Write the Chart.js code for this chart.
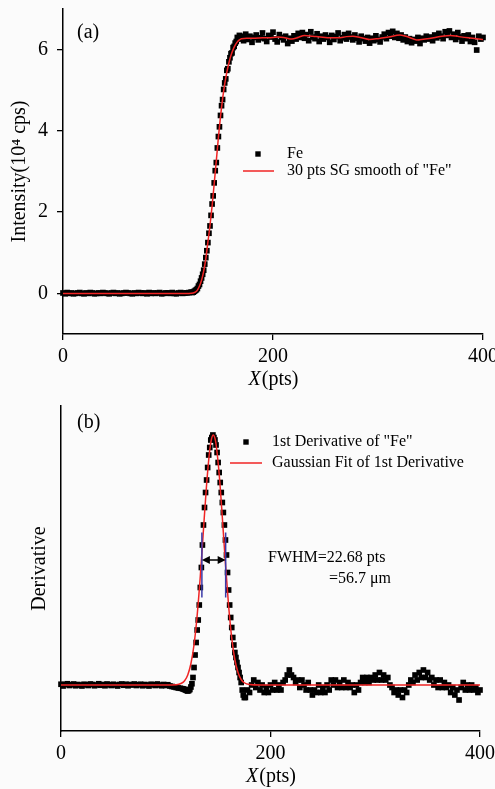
<!DOCTYPE html>
<html>
<head>
<meta charset="utf-8">
<script src="https://cdn.jsdelivr.net/npm/chart.js@4/dist/chart.umd.min.js"></script>
<style>
  body { margin: 0; background: #fbfbfb; }
  .panel { position: absolute; left: 0; width: 495px; }
  #panelA { top: 0; height: 392px; }
  #panelB { top: 392px; height: 397px; }
</style>
</head>
<body>
<div class="panel" id="panelA"><canvas id="chartA" width="495" height="392"></canvas></div>
<div class="panel" id="panelB"><canvas id="chartB" width="495" height="397"></canvas></div>
<script>
const SERIF = '"Liberation Serif", "Times New Roman", serif';

// ticks
const xTicks = [0, 200, 400];
const yTicksA = [0, 2, 4, 6];

// (a) Fe intensity, 10^4 cps
// x = 0, 2, ... 122
const feFlatY = [
  0.01, -0.01, 0.02, 0.00, 0.01, -0.01, 0.00, 0.01, 0.02, 0.00,
  -0.01, 0.01, 0.00, 0.02, 0.01, -0.01, 0.00, 0.01, 0.00, 0.02,
  0.01, 0.00, -0.01, 0.01, 0.02, 0.00, 0.01, -0.01, 0.00, 0.01,
  0.02, 0.01, 0.00, -0.01, 0.01, 0.00, 0.02, 0.01, 0.00, 0.01,
  -0.01, 0.02, 0.00, 0.01, 0.00, 0.01, 0.02, -0.01, 0.00, 0.01,
  0.01, 0.00, 0.02, 0.00, -0.01, 0.01, 0.02, 0.00, 0.01, 0.01,
  0.02, 0.03
];
// x = 123 ... 171
const feRiseY = [
  0.02, 0.03, 0.05, 0.07, 0.09, 0.12, 0.18, 0.22, 0.30, 0.38,
  0.47, 0.57, 0.72, 0.88, 1.05, 1.25, 1.48, 1.66, 1.92, 2.20,
  2.40, 2.72, 3.02, 3.22, 3.58, 3.86, 4.10, 4.38, 4.62, 4.77,
  5.02, 5.18, 5.28, 5.49, 5.53, 5.70, 5.80, 5.90, 5.92, 6.05,
  6.08, 6.16, 6.20, 6.30, 6.28, 6.35, 6.26, 6.33, 6.30
];
// x = 172, 174, ... 400
const fePlateauY = [
  6.22, 6.38, 6.25, 6.33, 6.18, 6.30, 6.36, 6.24, 6.29, 6.41,
  6.27, 6.20, 6.35, 6.31, 6.43, 6.26, 6.19, 6.37, 6.30, 6.24,
  6.33, 6.15, 6.28, 6.21, 6.34, 6.26, 6.40, 6.30, 6.42, 6.28,
  6.37, 6.22, 6.44, 6.31, 6.27, 6.39, 6.20, 6.33, 6.26, 6.36,
  6.30, 6.18, 6.35, 6.25, 6.32, 6.41, 6.22, 6.29, 6.37, 6.26,
  6.40, 6.31, 6.24, 6.36, 6.28, 6.19, 6.33, 6.27, 6.21, 6.30,
  6.16, 6.28, 6.22, 6.34, 6.25, 6.19, 6.31, 6.38, 6.27, 6.42,
  6.33, 6.45, 6.30, 6.40, 6.28, 6.36, 6.24, 6.31, 6.20, 6.27,
  6.17, 6.25, 6.21, 6.30, 6.15, 6.28, 6.24, 6.33, 6.26, 6.31,
  6.22, 6.36, 6.29, 6.40, 6.33, 6.27, 6.44, 6.35, 6.46, 6.30,
  6.38, 6.25, 6.42, 6.31, 6.21, 6.34, 6.27, 6.36, 6.20, 6.30,
  6.18, 5.99, 6.33, 6.26, 6.30
];
// 30 pts SG smooth
const smoothX = [0, 60, 120, 124, 126, 128, 130, 132, 134, 136, 138, 140, 142, 144, 146, 148, 150, 152, 154, 156, 158, 160, 162, 164, 166, 168, 170, 175, 180, 190, 200, 205, 210, 218, 224, 230, 238, 245, 255, 262, 270, 276, 283, 292, 300, 310, 321, 330, 337, 345, 353, 361, 369, 377, 386, 394, 400];
const smoothY = [0, 0, 0, 0.01, 0.03, 0.08, 0.18, 0.33, 0.55, 0.85, 1.26, 1.67, 2.15, 2.70, 3.26, 3.84, 4.35, 4.79, 5.15, 5.44, 5.67, 5.86, 6.00, 6.11, 6.19, 6.24, 6.27, 6.28, 6.28, 6.29, 6.30, 6.31, 6.30, 6.26, 6.30, 6.35, 6.33, 6.31, 6.29, 6.29, 6.32, 6.33, 6.30, 6.25, 6.27, 6.31, 6.36, 6.30, 6.24, 6.26, 6.29, 6.33, 6.35, 6.32, 6.29, 6.27, 6.25];

// (b) 1st derivative (arb. units, peak = 1)
// x = 0, 2, ... 116
const derivFlatY = [
  0.003, -0.004, 0.002, 0.005, -0.002, 0.001, 0.004, -0.003, 0.002, 0.000,
  -0.004, 0.003, 0.001, -0.002, 0.004, 0.002, -0.003, 0.000, 0.005, -0.001,
  0.002, -0.003, 0.004, 0.001, -0.002, 0.003, 0.000, -0.004, 0.002, 0.004,
  -0.001, 0.003, -0.003, 0.002, 0.000, 0.004, -0.002, 0.001, 0.003, -0.003,
  0.002, 0.000, -0.004, 0.003, 0.001, -0.002, 0.004, 0.000, -0.003, 0.002,
  -0.002, 0.001, -0.004, -0.006, -0.008, -0.010, -0.012, -0.013, -0.015
];
// x = 117 ... 175
const derivPeakY = [
  -0.016, -0.018, -0.020, -0.022, -0.024, -0.022, -0.018, -0.008, 0.005, 0.03,
  0.07, 0.12, 0.17, 0.22, 0.26, 0.32, 0.39, 0.47, 0.56, 0.64,
  0.71, 0.77, 0.82, 0.87, 0.92, 0.95, 0.98, 0.99, 1.00, 0.99,
  0.98, 0.96, 0.93, 0.89, 0.85, 0.81, 0.77, 0.73, 0.69, 0.64,
  0.58, 0.52, 0.45, 0.38, 0.32, 0.27, 0.23, 0.19, 0.16, 0.13,
  0.11, 0.09, 0.07, 0.05, 0.03, 0.01, -0.02, -0.04, -0.05
];
// x = 176, 178, ... 400
const derivNoiseY = [
  -0.05, -0.02, -0.03, 0.00, 0.02, -0.01, 0.01, -0.02, 0.00, -0.03,
  -0.01, -0.03, 0.00, -0.02, 0.01, -0.02, 0.00, -0.02, 0.01, 0.02,
  0.04, 0.06, 0.04, 0.03, 0.01, 0.02, -0.01, 0.02, 0.00, -0.02,
  0.01, -0.02, -0.04, -0.02, -0.03, 0.00, -0.03, -0.01, -0.03, 0.00,
  -0.02, 0.02, 0.00, 0.02, -0.01, 0.01, -0.01, 0.02, -0.01, 0.01,
  -0.01, 0.00, -0.03, 0.00, -0.02, 0.01, 0.03, 0.01, 0.03, 0.01,
  0.03, 0.02, 0.04, 0.02, 0.05, 0.02, 0.04, 0.02, 0.03, 0.00,
  -0.01, -0.03, -0.02, -0.04, -0.02, -0.05, -0.02, -0.03, 0.00, 0.02,
  0.01, 0.04, 0.02, 0.05, 0.03, 0.06, 0.03, 0.05, 0.02, 0.03,
  0.00, 0.02, -0.01, 0.02, -0.01, 0.01, -0.01, 0.00, -0.03, -0.01,
  -0.04, -0.02, -0.06, -0.01, 0.01, -0.02, 0.00, -0.02, 0.00, -0.02,
  -0.01, -0.03, -0.02
];
// gaussian fit
const gaussX = [0, 100, 110, 115, 118, 121, 124, 127, 130, 133, 136, 139, 142, 143.5, 145.4, 147, 148, 151, 154, 157, 160, 163, 166, 169, 172, 175, 180, 190, 400];
const gaussY = [0, 0, 0.001, 0.007, 0.017, 0.040, 0.085, 0.161, 0.279, 0.436, 0.621, 0.802, 0.940, 0.981, 1.000, 0.986, 0.964, 0.844, 0.671, 0.484, 0.317, 0.188, 0.101, 0.050, 0.022, 0.009, 0.002, 0, 0];
// FWHM markers
const fwhmX = [134.5, 157.2];
const fwhmLevel = 0.5;
const fwhmBar = [0.35, 0.61];

function seg(start, step, ys) {
  return ys.map((y, i) => ({ x: start + i * step, y: y }));
}
function pairs(xs, ys) {
  return xs.map((x, i) => ({ x: x, y: ys[i] }));
}

const feData = [...seg(0, 2, feFlatY), ...seg(123, 1, feRiseY), ...seg(172, 2, fePlateauY)];
const derivData = [...seg(0, 2, derivFlatY), ...seg(117, 1, derivPeakY), ...seg(176, 2, derivNoiseY)];

// panel label, legend, x title, FWHM arrow
const decor = {
  id: 'decor',
  afterDraw(chart, args, o) {
    const ctx = chart.ctx;
    const xs = chart.scales.x, ys = chart.scales.y;
    ctx.save();
    ctx.fillStyle = '#000';
    ctx.textBaseline = 'middle';
    ctx.textAlign = 'left';

    ctx.font = '20px ' + SERIF;
    ctx.fillText(o.tag, 77, o.tagY);

    // legend
    ctx.font = '16px ' + SERIF;
    ctx.fillRect(o.legMarkX - 2.7, o.legY1 - 2.7, 5.4, 5.4);
    ctx.fillText(o.legText1, o.legTextX, o.legY1);
    ctx.strokeStyle = '#f02424';
    ctx.lineWidth = 1.5;
    ctx.beginPath();
    ctx.moveTo(o.legLine[0], o.legY2);
    ctx.lineTo(o.legLine[1], o.legY2);
    ctx.stroke();
    ctx.fillText(o.legText2, o.legTextX, o.legY2);

    // x title with italic X
    const cx = (xs.left + xs.right) / 2;
    const ty = xs.bottom - 12;
    ctx.font = 'italic 20px ' + SERIF;
    const w1 = ctx.measureText('X').width;
    ctx.font = '20px ' + SERIF;
    const w2 = ctx.measureText('(pts)').width;
    const x0 = cx - (w1 + w2) / 2;
    ctx.font = 'italic 20px ' + SERIF;
    ctx.fillText('X', x0, ty);
    ctx.font = '20px ' + SERIF;
    ctx.fillText('(pts)', x0 + w1 + 1, ty);

    if (o.fwhm) {
      const xa = xs.getPixelForValue(fwhmX[0]);
      const xb = xs.getPixelForValue(fwhmX[1]);
      const yl = ys.getPixelForValue(fwhmLevel);
      ctx.strokeStyle = '#3a3aa8';
      ctx.lineWidth = 1.5;
      ctx.beginPath();
      fwhmX.forEach(v => {
        const px = xs.getPixelForValue(v);
        ctx.moveTo(px, ys.getPixelForValue(fwhmBar[0]));
        ctx.lineTo(px, ys.getPixelForValue(fwhmBar[1]));
      });
      ctx.stroke();
      ctx.strokeStyle = '#000';
      ctx.lineWidth = 1.5;
      ctx.beginPath();
      ctx.moveTo(xa + 6, yl);
      ctx.lineTo(xb - 6, yl);
      ctx.stroke();
      ctx.beginPath();
      ctx.moveTo(xa, yl); ctx.lineTo(xa + 8, yl - 4); ctx.lineTo(xa + 8, yl + 4); ctx.closePath();
      ctx.moveTo(xb, yl); ctx.lineTo(xb - 8, yl - 4); ctx.lineTo(xb - 8, yl + 4); ctx.closePath();
      ctx.fill();
      ctx.font = '16px ' + SERIF;
      ctx.fillText('FWHM=22.68 pts', 268, 166);
      ctx.fillText('=56.7 \u03bcm', 329, 187);
    }
    ctx.restore();
  }
};

function xScale() {
  return {
    type: 'linear', min: 0, max: 400,
    afterBuildTicks: s => { s.ticks = xTicks.map(v => ({ value: v })); },
    afterFit: s => { s.height = 58; s.paddingLeft = 0; s.paddingRight = 0; },
    ticks: { color: '#000', font: { family: SERIF, size: 20 }, padding: 5, maxRotation: 0, autoSkip: false },
    grid: { drawOnChartArea: false, tickLength: 6, color: '#000', lineWidth: 1.3 },
    border: { color: '#000', width: 1.5 }
  };
}

function makeChart(id, datasets, padRight, padTop, yScale, decorOpts) {
  return new Chart(document.getElementById(id), {
    type: 'scatter',
    data: { datasets: datasets },
    options: {
      responsive: false,
      animation: false,
      events: [],
      layout: { padding: { top: padTop, right: padRight, left: 0, bottom: 0 } },
      plugins: { legend: { display: false }, tooltip: { enabled: false }, decor: decorOpts },
      scales: { x: xScale(), y: yScale }
    },
    plugins: [decor]
  });
}

function markers(data) {
  return {
    data: data, showLine: false, order: 1, clip: false,
    pointStyle: 'rect', pointRadius: 4,
    pointBackgroundColor: '#000', pointBorderColor: '#000', pointBorderWidth: 0
  };
}
function fitLine(data) {
  return {
    data: data, showLine: true, order: 0,
    borderColor: '#f02424', borderWidth: 1.5, pointRadius: 0,
    cubicInterpolationMode: 'monotone'
  };
}

makeChart('chartA', [markers(feData), fitLine(pairs(smoothX, smoothY))], 12, 9, {
  min: -1, max: 7,
  afterBuildTicks: s => { s.ticks = yTicksA.map(v => ({ value: v })); },
  afterFit: s => { s.width = 63; s.paddingTop = 0; s.paddingBottom = 0; },
  ticks: { color: '#000', font: { family: SERIF, size: 20 }, padding: 9 },
  grid: { drawOnChartArea: false, tickLength: 6, color: '#000', lineWidth: 1.3 },
  border: { color: '#000', width: 1.5 },
  title: { display: true, text: 'Intensity(10\u2074 cps)', color: '#000', font: { family: SERIF, size: 20 }, padding: { top: 8, bottom: 0 } }
}, {
  tag: '(a)', tagY: 33,
  legMarkX: 258, legTextX: 287, legY1: 154, legY2: 171, legLine: [243, 274],
  legText1: 'Fe', legText2: '30 pts SG smooth of "Fe"'
});

makeChart('chartB', [markers(derivData), fitLine(pairs(gaussX, gaussY))], 15, 14, {
  min: -0.184, max: 1.116,
  afterFit: s => { s.width = 61; s.paddingTop = 0; s.paddingBottom = 0; },
  ticks: { display: false },
  grid: { display: false },
  border: { display: true, color: '#000', width: 1.5 },
  title: { display: true, text: 'Derivative', color: '#000', font: { family: SERIF, size: 20 }, padding: { top: 28, bottom: 0 } }
}, {
  tag: '(b)', tagY: 31,
  legMarkX: 246, legTextX: 272, legY1: 50, legY2: 71, legLine: [230, 262],
  legText1: '1st Derivative of "Fe"', legText2: 'Gaussian Fit of 1st Derivative',
  fwhm: true
});
</script>
</body>
</html>
